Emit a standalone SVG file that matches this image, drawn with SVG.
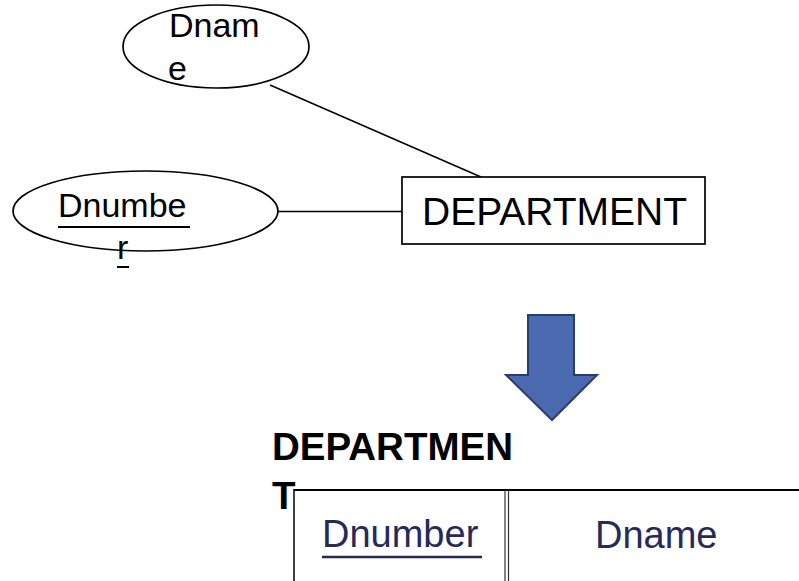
<svg xmlns="http://www.w3.org/2000/svg" width="799" height="581" viewBox="0 0 799 581">
  <style>
    .shape { fill: #ffffff; stroke: #000000; stroke-width: 1.7; }
    .edge { stroke: #000000; stroke-width: 1.5; fill: none; }
    .attr { font-family: "Liberation Sans", Arial, sans-serif; font-size: 34px; fill: #000000; }
    .ent { font-family: "Liberation Sans", Arial, sans-serif; font-size: 39px; fill: #000000; }
    .title { font-family: "Liberation Sans", Arial, sans-serif; font-size: 38.5px; font-weight: bold; fill: #000000; }
    .cell { font-family: "Liberation Sans", Arial, sans-serif; font-size: 38px; fill: #262a5a; }
  </style>

  <!-- ER attribute-to-entity links -->
  <g id="connectors">
    <line class="edge" x1="270" y1="85" x2="481" y2="177"/>
    <line class="edge" x1="278" y1="211.5" x2="402" y2="211.5"/>
  </g>

  <g id="attr-dname">
    <ellipse class="shape" cx="216" cy="46.5" rx="93" ry="41.5"/>
    <text class="attr" x="169" y="37">Dnam</text>
    <text class="attr" x="168" y="80">e</text>
  </g>

  <g id="attr-dnumber">
    <ellipse class="shape" cx="145.5" cy="211" rx="132.5" ry="40"/>
    <text class="attr" x="58" y="217">Dnumbe</text>
    <line x1="58" y1="227" x2="190" y2="227" stroke="#000" stroke-width="2"/>
    <text class="attr" x="117" y="259">r</text>
    <line x1="117" y1="267" x2="129" y2="267" stroke="#000" stroke-width="2"/>
  </g>

  <g id="entity-department">
    <rect class="shape" x="402" y="177" width="303" height="67"/>
    <text class="ent" x="422" y="225">DEPARTMENT</text>
  </g>

  <!-- mapping arrow -->
  <g id="mapping-arrow">
    <path d="M528,315 L574,315 L574,375 L597,375 L552,420 L506,375 L528,375 Z"
          fill="#4a69ae" stroke="#2c3d6a" stroke-width="2" stroke-linejoin="miter"/>
  </g>

  <!-- resulting relation schema -->
  <g id="relation-department">
    <text class="title" x="272" y="460">DEPARTMEN</text>
    <text class="title" x="272" y="509">T</text>
    <line x1="294" y1="490" x2="799" y2="490" stroke="#000" stroke-width="2"/>
    <line x1="294" y1="489" x2="294" y2="581" stroke="#000" stroke-width="1.5"/>
    <line x1="505" y1="490" x2="505" y2="581" stroke="#333" stroke-width="1.2"/>
    <line x1="508.5" y1="490" x2="508.5" y2="581" stroke="#333" stroke-width="1.2"/>
    <text class="cell" x="322" y="547">Dnumber</text>
    <line x1="322" y1="557" x2="482" y2="557" stroke="#262a5a" stroke-width="2.5"/>
    <text class="cell" x="595" y="548">Dname</text>
  </g>
</svg>
